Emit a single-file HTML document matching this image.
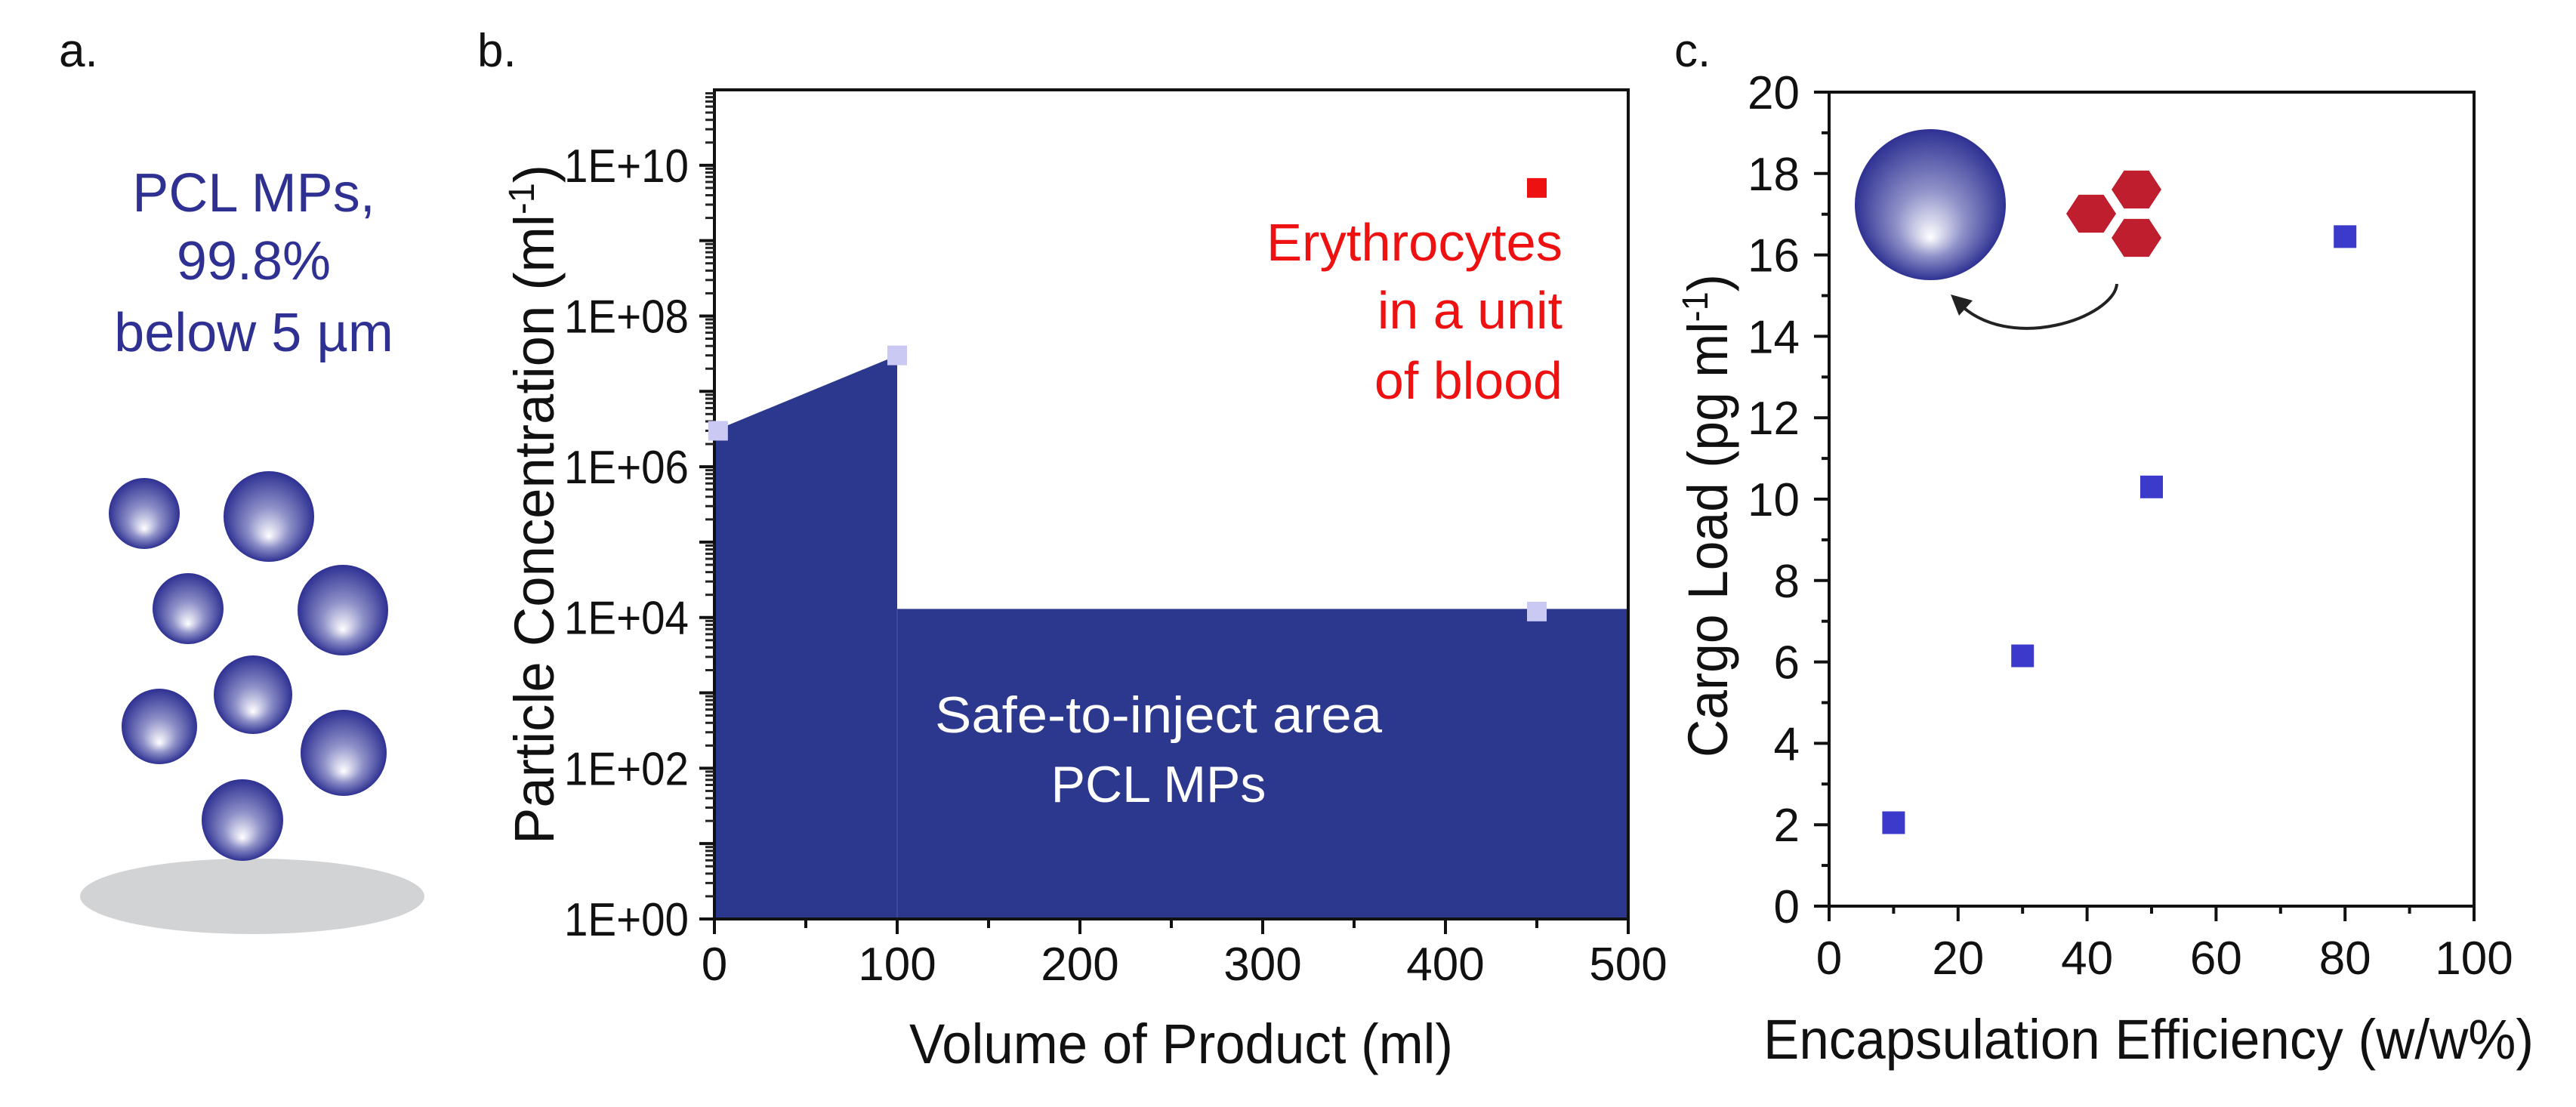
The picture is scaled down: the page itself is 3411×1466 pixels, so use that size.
<!DOCTYPE html>
<html><head><meta charset="utf-8"><style>
html,body{margin:0;padding:0;background:#fff;}
svg{display:block;font-family:"Liberation Sans",sans-serif;}
</style></head><body>
<svg id="fig" width="3411" height="1466" viewBox="0 0 3411 1466" xmlns="http://www.w3.org/2000/svg">
<defs>
<radialGradient id="sph" cx="0.5" cy="0.5" r="0.5" fx="0.5" fy="0.72">
<stop offset="0" stop-color="#ffffff"/><stop offset="0.45" stop-color="#8e90c8"/><stop offset="1" stop-color="#2e3192"/>
</radialGradient>
</defs>
<!-- Panel a -->
<g>
<text x="78" y="88" font-size="62" fill="#111">a.</text>
<g font-size="72" fill="#2e3192" text-anchor="middle">
<text x="336" y="280">PCL MPs,</text>
<text x="336" y="370">99.8%</text>
<text x="336" y="465">below 5 µm</text>
</g>
<ellipse cx="334" cy="1187" rx="228" ry="50" fill="#d2d3d5"/>
<g fill="url(#sph)">
<circle cx="191" cy="680" r="47"/><circle cx="356" cy="684" r="60"/>
<circle cx="249" cy="806" r="47"/><circle cx="454" cy="808" r="60"/>
<circle cx="211" cy="962" r="50"/><circle cx="335" cy="920" r="52"/>
<circle cx="455" cy="997" r="57"/><circle cx="321" cy="1086" r="54"/>
</g>
</g>
<g id="pb"></g>
<g id="pc"></g>
</svg>
<script>
// Panel b data
const bVolumes = [0, 100, 100, 500];
const bLimits = [3e6, 3e7, 1.3e4, 1.3e4];
const bMarkerX = [2, 100, 450];
const bMarkerY = [3e6, 3e7, 1.2e4];
const bRbcX = [450];
const bRbcY = [5e9];
const bYTickExp = [0, 2, 4, 6, 8, 10];
const bXTicks = [0, 100, 200, 300, 400, 500];
// Panel c data
const cEff = [10, 30, 50, 80];
const cLoad = [2.05, 6.15, 10.3, 16.45];
const cXTicks = [0, 20, 40, 60, 80, 100];
const cYTicks = [0, 2, 4, 6, 8, 10, 12, 14, 16, 18, 20];

const NS = "http://www.w3.org/2000/svg";
function mk(parent, tag, attrs, txt) {
  const e = document.createElementNS(NS, tag);
  for (const k in attrs) e.setAttribute(k, attrs[k]);
  if (txt !== undefined) e.textContent = txt;
  parent.appendChild(e);
  return e;
}
// ---- Panel b ----
const pb = document.getElementById('pb');
const bL = 946, bR = 2156, bT = 119, bB = 1217;
const bx = v => bL + (v - 0) / 500 * (bR - bL);
const by = v => bB - (Math.log10(v) - 0) / 11 * (bB - bT);
let t = mk(pb, 'text', {x: 632, y: 88, 'font-size': 62, fill: '#111'}, 'b.');


let d = 'M' + bx(bVolumes[0]) + ',' + bB;
for (let i = 0; i < bVolumes.length; i++) d += ' L' + bx(bVolumes[i]) + ',' + by(bLimits[i]);
d += ' L' + bx(bVolumes[bVolumes.length - 1]) + ',' + bB + ' Z';
let area = mk(pb, 'path', {d: d, fill: '#2c388e'});


mk(pb, 'line', {x1: bx(100), x2: bx(100), y1: by(1.3e4), y2: bB, stroke: '#3d4a9a', 'stroke-width': 2});
let frame = mk(pb, 'rect', {x: bL, y: bT, width: bR - bL, height: bB - bT, fill: 'none', stroke: '#111', 'stroke-width': 4});


for (let e = 0; e <= 10; e++) {
  for (let m = 2; m <= 9; m++) {
    const y = by(m * Math.pow(10, e));
    mk(pb, 'line', {x1: bL - 12, x2: bL, y1: y, y2: y, stroke: '#222', 'stroke-width': 3});
  }
  const y = by(Math.pow(10, e));
  mk(pb, 'line', {x1: bL - 20, x2: bL, y1: y, y2: y, stroke: '#111', 'stroke-width': 4});
}
bYTickExp.forEach(e => {
  const s = String(e).padStart(2, '0');
  const lb = mk(pb, 'text', {x: 912, y: by(Math.pow(10, e)) + 22, 'font-size': 62, 'text-anchor': 'end', fill: '#111', textLength: 165, lengthAdjust: 'spacingAndGlyphs'}, '1E+' + s);
  
  
});
for (let v = 0; v <= 500; v += 50) {
  const major = v % 100 === 0;
  mk(pb, 'line', {x1: bx(v), x2: bx(v), y1: bB, y2: bB + (major ? 20 : 12), stroke: '#111', 'stroke-width': 4});
}
bXTicks.forEach(v => {
  const lb = mk(pb, 'text', {x: bx(v), y: 1298, 'font-size': 62, 'text-anchor': 'middle', fill: '#111'}, String(v));
  
  
});
bMarkerX.forEach((v, i) => {
  const r = mk(pb, 'rect', {x: bx(v) - 13, y: by(bMarkerY[i]) - 13, width: 26, height: 26, fill: '#c9c9f3'});
  
  
});
bRbcX.forEach((v, i) => {
  const r = mk(pb, 'rect', {x: bx(v) - 13, y: by(bRbcY[i]) - 13, width: 26, height: 26, fill: '#ee1111'});
  
  
});
const red = mk(pb, 'g', {'font-size': 70, fill: '#ee1111', 'text-anchor': 'end'});


mk(red, 'text', {x: 2069, y: 345, textLength: 392, lengthAdjust: 'spacingAndGlyphs'}, 'Erythrocytes');
mk(red, 'text', {x: 2069, y: 435}, 'in a unit');
mk(red, 'text', {x: 2069, y: 528}, 'of blood');
const wt = mk(pb, 'g', {'font-size': 68, fill: '#ffffff', 'text-anchor': 'middle'});


mk(wt, 'text', {x: 1534, y: 970, textLength: 592, lengthAdjust: 'spacingAndGlyphs'}, 'Safe-to-inject area');
mk(wt, 'text', {x: 1534, y: 1062}, 'PCL MPs');
t = mk(pb, 'text', {x: 1564, y: 1408, 'font-size': 74, 'text-anchor': 'middle', fill: '#111', textLength: 720, lengthAdjust: 'spacingAndGlyphs'}, 'Volume of Product (ml)');


t = mk(pb, 'text', {transform: 'translate(733,668) rotate(-90)', 'font-size': 74, 'text-anchor': 'middle', fill: '#111'});


t.setAttribute('textLength', 900);
t.setAttribute('lengthAdjust', 'spacingAndGlyphs');
mk(t, 'tspan', {}, 'Particle Concentration (ml');
mk(t, 'tspan', {dy: -26, 'font-size': 48}, '-1');
mk(t, 'tspan', {dy: 26}, ')');

// ---- Panel c ----
const pc = document.getElementById('pc');
const cL = 2422, cR = 3276, cT = 122, cB = 1200;
const cx = v => cL + v / 100 * (cR - cL);
const cy = v => cB - v / 20 * (cB - cT);
t = mk(pc, 'text', {x: 2217, y: 88, 'font-size': 62, fill: '#111'}, 'c.');


frame = mk(pc, 'rect', {x: cL, y: cT, width: cR - cL, height: cB - cT, fill: 'none', stroke: '#111', 'stroke-width': 4});


for (let v = 0; v <= 20; v++) {
  const major = v % 2 === 0;
  mk(pc, 'line', {x1: cL - (major ? 20 : 10), x2: cL, y1: cy(v), y2: cy(v), stroke: '#111', 'stroke-width': 4});
}
for (let v = 0; v <= 100; v += 10) {
  const major = v % 20 === 0;
  mk(pc, 'line', {x1: cx(v), x2: cx(v), y1: cB, y2: cB + (major ? 20 : 10), stroke: '#111', 'stroke-width': 4});
}
cYTicks.forEach(v => {
  const lb = mk(pc, 'text', {x: 2383, y: cy(v) + 22, 'font-size': 62, 'text-anchor': 'end', fill: '#111'}, String(v));
  
  
});
cXTicks.forEach(v => {
  const lb = mk(pc, 'text', {x: cx(v), y: 1290, 'font-size': 62, 'text-anchor': 'middle', fill: '#111'}, String(v));
  
  
});
cEff.forEach((v, i) => {
  const r = mk(pc, 'rect', {x: cx(v) - 15, y: cy(cLoad[i]) - 15, width: 30, height: 30, fill: '#3c3acb'});
  
  
});
// illustration
const sp = mk(pc, 'circle', {cx: 2556, cy: 271, r: 100, fill: 'url(#sph)'});


[[2769, 283], [2829, 251], [2829, 315]].forEach(c => {
  let p = '';
  for (let k = 0; k < 6; k++) { const a = Math.PI / 3 * k; p += (c[0] + 33 * Math.cos(a)) + ',' + (c[1] + 29 * Math.sin(a)) + ' '; }
  const h = mk(pc, 'polygon', {points: p, fill: '#be1e2d'});
  
  
});
const ar = mk(pc, 'path', {d: 'M2803,376 C2800,420 2660,470 2592,400', fill: 'none', stroke: '#222', 'stroke-width': 4});


mk(pc, 'polygon', {points: '2583,390 2612,398 2594,418', fill: '#222'});
t = mk(pc, 'text', {x: 2845, y: 1402, 'font-size': 74, 'text-anchor': 'middle', fill: '#111', textLength: 1020, lengthAdjust: 'spacingAndGlyphs'}, 'Encapsulation Efficiency (w/w%)');


t = mk(pc, 'text', {transform: 'translate(2287,683) rotate(-90)', 'font-size': 74, 'text-anchor': 'middle', fill: '#111'});


t.setAttribute('textLength', 640);
t.setAttribute('lengthAdjust', 'spacingAndGlyphs');
mk(t, 'tspan', {}, 'Cargo Load (pg ml');
mk(t, 'tspan', {dy: -26, 'font-size': 48}, '-1');
mk(t, 'tspan', {dy: 26}, ')');
</script>
</body></html>
